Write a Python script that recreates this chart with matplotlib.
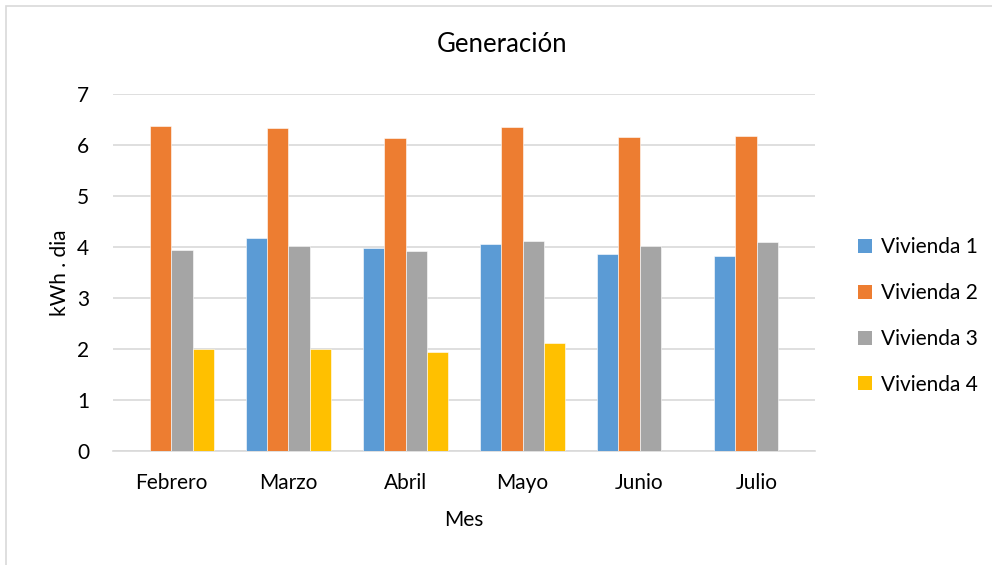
import matplotlib
matplotlib.use("Agg")
import matplotlib.pyplot as plt
import numpy as np
from matplotlib.patches import Rectangle, Patch

meses = ["Febrero", "Marzo", "Abril", "Mayo", "Junio", "Julio"]
series_names = ["Vivienda 1", "Vivienda 2", "Vivienda 3", "Vivienda 4"]
vivienda1 = [np.nan, 4.18, 3.98, 4.05, 3.86, 3.83]
vivienda2 = [6.37, 6.33, 6.14, 6.35, 6.16, 6.17]
vivienda3 = [3.94, 4.01, 3.92, 4.11, 4.02, 4.09]
vivienda4 = [2.00, 2.00, 1.95, 2.12, np.nan, np.nan]
colores = ["#5B9BD5", "#ED7D31", "#A5A5A5", "#FFC000"]

plt.rcParams["font.family"] = ["Lato", "DejaVu Sans"]

fig = plt.figure(figsize=(9.92, 5.65), dpi=100)
ax = fig.add_axes([0.1139, 0.2018, 0.7077, 0.6318])

# chart frame
fig.patches.append(Rectangle((6 / 992, -0.01), 1.0, 1 - 6 / 565 + 0.01,
                             transform=fig.transFigure, fill=False,
                             edgecolor="#d9d9d9", linewidth=1.2))

x = np.arange(len(meses))
n = len(series_names)
bw = 1.0 / (n + 1.5)
for i, (vals, c) in enumerate(zip([vivienda1, vivienda2, vivienda3, vivienda4], colores)):
    offs = (i - (n - 1) / 2) * bw
    ax.bar(x + offs, vals, width=bw, color=c, edgecolor="white", linewidth=0.4, zorder=3)

ax.set_xlim(-0.5, len(meses) - 0.5)
ax.set_ylim(0, 7)
ax.set_yticks(range(0, 8))
ax.set_xticks(x)
ax.set_xticklabels(meses)
ax.tick_params(axis="both", length=0, labelsize=15, colors="#000000")
ax.tick_params(axis="y", pad=17)
ax.tick_params(axis="x", pad=16)
ax.grid(axis="y", color="#d9d9d9", linewidth=1.2, zorder=0)
for s in ["top", "right", "left"]:
    ax.spines[s].set_visible(False)
ax.spines["bottom"].set_color("#d9d9d9")
ax.spines["bottom"].set_linewidth(1.2)

ax.set_xlabel("Mes", fontsize=15, labelpad=12)
ax.set_ylabel("kWh . dia", fontsize=15, labelpad=14)
ax.xaxis.set_label_coords(0.5, (451 - 520) / 357, transform=ax.transAxes)
ax.yaxis.label.set_verticalalignment("center")
ax.yaxis.set_label_coords((60 - 113) / 702, 0.5, transform=ax.transAxes)
ax.xaxis.label.set_verticalalignment("center")
fig.text(0.5065, 1 - 45 / 565, "Generación", ha="center", va="center", fontsize=18.5)

handles = [Patch(facecolor=c, edgecolor="none") for c in colores]
fig.legend(handles, series_names, loc="center left",
           bbox_to_anchor=(850 / 992, 1 - 316 / 565), frameon=False,
           fontsize=15, handlelength=0.65, handleheight=0.65,
           handletextpad=0.45, labelspacing=1.24, borderaxespad=0)

fig.savefig("out.png", dpi=100)
